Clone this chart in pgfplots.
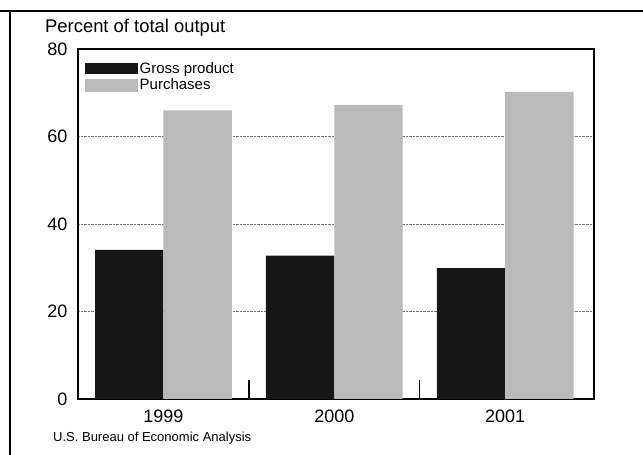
\documentclass[border=0pt]{standalone}
\usepackage{pgfplots}
\pgfplotsset{compat=1.18}
\usepackage{fontspec}
\setmainfont{Liberation Sans}
\definecolor{gpcol}{RGB}{22,22,22}
\definecolor{pucol}{RGB}{186,186,186}
\begin{document}
\begin{tikzpicture}
\path[use as bounding box] (0,0) rectangle (643bp,455bp);
\draw[line width=2bp] (0,444bp) -- (643bp,444bp);
\draw[line width=2bp] (10bp,0) -- (10bp,444bp);
\node[anchor=base west, font=\fontsize{18.4bp}{20bp}\selectfont, inner sep=0] at (45bp,422bp) {Percent of total output};
\node[anchor=base west, font=\fontsize{13bp}{15bp}\selectfont, inner sep=0] at (53bp,14bp) {U.S. Bureau of Economic Analysis};
\begin{axis}[
  at={(78bp,56bp)}, anchor=south west,
  scale only axis, width=516bp, height=350bp,
  ybar=0pt, bar width=0.4,
  xmin=-0.5, xmax=2.52, ymin=0, ymax=80,
  xtick={0,1,2}, xticklabels={1999,2000,2001},
  ytick={0,20,40,60,80},
  major tick length=0pt,
  minor xtick={0.5,1.5},
  minor tick length=19bp,
  minor x tick style={line width=1.4bp, black},
  xtick pos=bottom, tick align=inside,
  ymajorgrids, grid style={densely dotted, black!55, line width=0.8bp},
  axis line style={line width=1.8bp},
  tick label style={font=\fontsize{18bp}{20bp}\selectfont},
  /pgf/number format/assume math mode=true,
  xticklabel style={yshift=-7bp},
  yticklabel style={xshift=-7bp},
  legend style={at={(0,1)}, anchor=north west, xshift=7bp, yshift=-12bp, draw=none, fill=none, inner sep=0pt,
    font=\fontsize{15bp}{17bp}\selectfont, row sep=1bp, nodes={inner sep=1.5bp}},
  legend cell align=left,
]
\addplot[fill=gpcol, draw=none, legend image code/.code={\fill[gpcol] (0bp,-5.5bp) rectangle (53bp,5.5bp);}]
  coordinates {(0,34.1) (1,32.8) (2,29.9)};
\addplot[fill=pucol, draw=none, legend image code/.code={\fill[pucol] (0bp,-6.5bp) rectangle (53bp,6.5bp);}]
  coordinates {(0,66.0) (1,67.2) (2,70.2)};
\legend{Gross product, Purchases}
\end{axis}
\end{tikzpicture}
\end{document}
